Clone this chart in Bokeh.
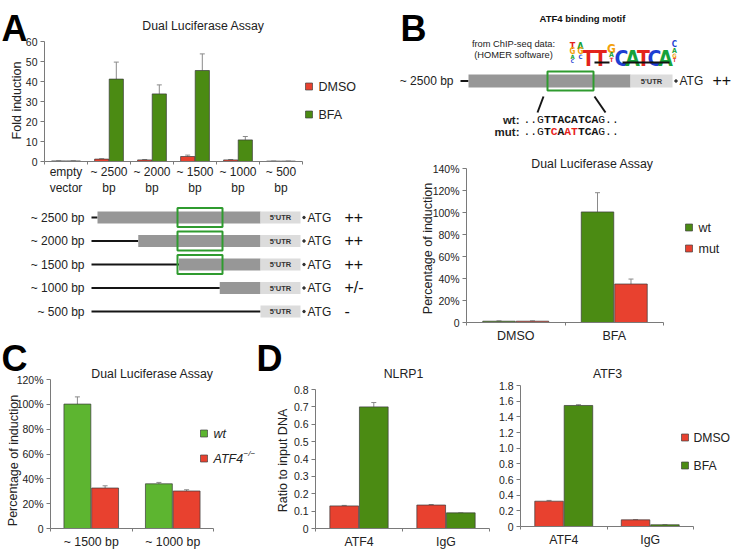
from bokeh.plotting import figure
from bokeh.models import (Range1d, FixedTicker, Whisker, TeeHead, ColumnDataSource, GridBox)
from bokeh.embed import file_html
from bokeh.resources import INLINE
from bokeh.core.properties import value

FONT = "Liberation Sans"
MONO = "Liberation Mono"
NARROW = "Liberation Sans Narrow, DejaVu Sans Condensed, Liberation Sans"
RED = "#e8412f"
GREEN = "#4b8b13"
GREEN_LIGHT = "#5db530"
ERRC = "#8a8a8a"
AXIS = "#7a7a7a"
TXT = "#222222"

# ---------------- data ----------------
# Panel A: fold induction
a_categories = ["empty\nvector", "~ 2500\nbp", "~ 2000\nbp", "~ 1500\nbp", "~ 1000\nbp", "~ 500\nbp"]
a_dmso = [0.3, 1.2, 0.8, 2.5, 0.8, 0.2]
a_dmso_err = [0.0, 0.2, 0.2, 0.7, 0.2, 0.0]
a_bfa = [0.3, 41.2, 33.8, 45.5, 10.8, 0.2]
a_bfa_err = [0.0, 8.5, 4.5, 8.3, 1.7, 0.0]
a_yticks = [0, 10, 20, 30, 40, 50, 60]
a_ylabels = ["0", "10", "20", "30", "40", "50", "60"]

# Panel A: promoter constructs
construct_bp = [2500, 2000, 1500, 1000, 500]
construct_labels = ["~ 2500 bp", "~ 2000 bp", "~ 1500 bp", "~ 1000 bp", "~ 500 bp"]
construct_activity = ["++", "++", "++", "+/-", "-"]
construct_has_motif = [True, True, True, False, False]

# Panel B
b_categories = ["DMSO", "BFA"]
b_wt = [1.2, 100.5]
b_wt_err = [0.3, 17.5]
b_mut = [1.2, 35.0]
b_mut_err = [0.3, 4.5]
pct_ticks_b = [0, 20, 40, 60, 80, 100, 120, 140]
pct_labels_b = ["0", "20%", "40%", "60%", "80%", "100%", "120%", "140%"]
wt_seq = "..GTTACATCAG.."
mut_seq = "..GTCAATTCAG.."
mut_changed = [4, 6, 7]

# Panel C
c_categories = ["~ 1500 bp", "~ 1000 bp"]
c_wt = [100.2, 36.0]
c_wt_err = [5.8, 1.1]
c_ko = [32.6, 30.2]
c_ko_err = [1.8, 1.0]
pct_ticks_c = [0, 20, 40, 60, 80, 100, 120]
pct_labels_c = ["0", "20%", "40%", "60%", "80%", "100%", "120%"]

# Panel D
d_categories = ["ATF4", "IgG"]
nlrp1_dmso = [0.13, 0.135]
nlrp1_dmso_err = [0.003, 0.003]
nlrp1_bfa = [0.70, 0.09]
nlrp1_bfa_err = [0.025, 0.0]
nlrp1_ticks = [0, 0.1, 0.2, 0.3, 0.4, 0.5, 0.6, 0.7, 0.8]
nlrp1_labels = ["0", "0.1", "0.2", "0.3", "0.4", "0.5", "0.6", "0.7", "0.8"]
atf3_dmso = [0.323, 0.085]
atf3_dmso_err = [0.01, 0.003]
atf3_bfa = [1.545, 0.022]
atf3_bfa_err = [0.01, 0.0]
atf3_ticks = [0, 0.2, 0.4, 0.6, 0.8, 1.0, 1.2, 1.4, 1.6, 1.8]
atf3_labels = ["0", "0.2", "0.4", "0.6", "0.8", "1.0", "1.2", "1.4", "1.6", "1.8"]

# motif logo letters
LOGO_COL = {"T": "#e3231c", "A": "#17a23a", "C": "#1d3fd2", "G": "#f3a10b"}
logo_big = [("T", 588), ("T", 600), ("C", 621), ("A", 632), ("T", 643), ("C", 654), ("A", 665)]
logo_small = [("T", 572, 45, 9), ("G", 572, 51, 8), ("A", 572, 56, 6), ("C", 572, 60, 5),
              ("A", 580, 45, 9), ("G", 580, 51, 8), ("C", 580, 56, 6),
              ("G", 611, 48, 12), ("A", 611, 54, 7), ("T", 611, 59, 6),
              ("C", 674, 44, 8), ("A", 674, 50, 7), ("G", 674, 55, 6), ("T", 674, 59, 5)]

W_PAGE, H_PAGE = 733, 551

# ---------------- background (decorations, page pixel coordinates) ----------------
bg = figure(width=W_PAGE, height=H_PAGE, x_range=Range1d(0, W_PAGE), y_range=Range1d(H_PAGE, 0),
            x_axis_type=None, y_axis_type=None, min_border=0, output_backend="svg",
            toolbar_location=None, frame_align=False)
bg.outline_line_color = None


def txt(x, y, t, size, align="left", baseline="middle", style="normal", color=TXT, font=FONT, angle=0.0):
    bg.text(x=[x], y=[y], text=[t], text_font=value(font), text_font_size=value(f"{size}px"),
            text_align=align, text_baseline=baseline, text_font_style=style, text_color=color,
            angle=angle)


def legend_box(x, ys, colors, labels, size=12.5, italic=False, gap=6):
    for y, c, t in zip(ys, colors, labels):
        bg.quad(left=[x], right=[x + 7], top=[y - 3.5], bottom=[y + 3.5], fill_color=c,
                line_color="#444444", line_width=0.7)
        txt(x + 7 + gap, y, t, size, style="italic" if italic else "normal")


# panel letters
txt(1, 28, "A", 36, baseline="alphabetic", style="bold", color="#000000")
txt(400, 28, "B", 36, baseline="alphabetic", style="bold", color="#000000")
txt(1, 358, "C", 36, baseline="alphabetic", style="bold", color="#000000")
txt(256, 358, "D", 36, baseline="alphabetic", style="bold", color="#000000")

# titles, axis titles, legends
txt(203, 25, "Dual Luciferase Assay", 12.3, align="center")
txt(16, 100, "Fold induction", 12.5, align="center", angle=1.5707963)
legend_box(305, [86, 114], [RED, GREEN], ["DMSO", "BFA"])

txt(592, 163, "Dual Luciferase Assay", 12.3, align="center")
txt(427, 248, "Percentage of induction", 12.5, align="center", angle=1.5707963)
legend_box(685, [227, 248], [GREEN, RED], ["wt", "mut"])

txt(152, 373, "Dual Luciferase Assay", 12.3, align="center")
txt(13, 460, "Percentage of induction", 12.5, align="center", angle=1.5707963)
legend_box(200, [433, 458], [GREEN_LIGHT, RED], ["wt", "ATF4"], italic=True)
txt(243, 453, "\u2212/\u2212", 8, style="italic")

txt(403, 373, "NLRP1", 12.3, align="center")
txt(282, 460, "Ratio to input DNA", 12.5, align="center", angle=1.5707963)
txt(607, 373, "ATF3", 12.3, align="center")
legend_box(681, [437, 465], [RED, GREEN], ["DMSO", "BFA"], size=12.2, gap=5)

# Panel A construct diagram
row_y = [217 + 23.5 * i for i in range(len(construct_bp))]
box_start = [260 - (bp - 500) / 500 * 40.75 for bp in construct_bp]
n = len(row_y)
bg.segment(x0=[91] * n, y0=row_y, x1=box_start, y1=row_y, line_width=2, line_color="#151515")
bg.quad(left=box_start, right=[260] * n, top=[y - 6 for y in row_y], bottom=[y + 6 for y in row_y],
        fill_color="#979797", line_color=None)
bg.quad(left=[260] * n, right=[300] * n, top=[y - 6 for y in row_y], bottom=[y + 6 for y in row_y],
        fill_color="#dcdcdc", line_color=None)
mot_y = [y for y, h in zip(row_y, construct_has_motif) if h]
bg.quad(left=[177] * len(mot_y), right=[222] * len(mot_y), top=[y - 9.5 for y in mot_y],
        bottom=[y + 9.5 for y in mot_y], fill_color=None, line_color="#2f9b2f", line_width=2)
bg.text(x=[84] * n, y=row_y, text=construct_labels, text_font=value(FONT), text_font_size="12px",
        text_align="right", text_baseline="middle", text_color=TXT)
bg.text(x=[280] * n, y=row_y, text=["5'UTR"] * n, text_font=value(FONT), text_font_size="7.5px",
        text_font_style="bold", text_align="center", text_baseline="middle", text_color="#333333")
bg.scatter(x=[303.5] * n, y=row_y, size=2.5, color="#333333")
bg.text(x=[307] * n, y=row_y, text=["ATG"] * n, text_font=value(FONT), text_font_size="12px",
        text_align="left", text_baseline="middle", text_color=TXT)
bg.text(x=[344] * n, y=[y - 1 for y in row_y], text=construct_activity, text_font=value(FONT),
        text_font_size="16px", text_align="left", text_baseline="middle", text_color="#111111")

# Panel B motif + construct
txt(582, 18, "ATF4 binding motif", 9.5, align="center", style="bold", color="#111111")
txt(513, 43, "from ChIP-seq data:", 9.3, align="center")
txt(513, 54, "(HOMER software)", 9.3, align="center")
for ch, x in logo_big:
    txt(x, 58, ch, 21, align="center", baseline="alphabetic", style="bold", color=LOGO_COL[ch], font=NARROW)
for ch, x, y, s in logo_small:
    txt(x, y, ch, s, align="center", baseline="alphabetic", style="bold", color=LOGO_COL[ch], font=NARROW)
bg.segment(x0=[594, 622], y0=[62, 62], x1=[609, 669], y1=[62, 62], line_width=2.2, line_color="#111111")
bg.segment(x0=[460], y0=[80.5], x1=[468], y1=[80.5], line_width=2, line_color="#151515")
bg.quad(left=[468], right=[630], top=[74], bottom=[87], fill_color="#979797", line_color=None)
bg.quad(left=[630], right=[672], top=[74], bottom=[87], fill_color="#dcdcdc", line_color=None)
bg.quad(left=[547], right=[593], top=[71], bottom=[90], fill_color=None, line_color="#2f9b2f", line_width=2)
txt(453, 80.5, "~ 2500 bp", 12, align="right")
txt(651, 80.5, "5'UTR", 7.5, align="center", style="bold", color="#333333")
bg.scatter(x=[675.5], y=[80.5], size=2.5, color="#333333")
txt(679, 80.5, "ATG", 12)
txt(712, 79.5, "++", 16, color="#111111")
bg.segment(x0=[543, 594], y0=[96, 96], x1=[537, 605], y1=[112, 112], line_width=2, line_color="#151515")
txt(519, 119, "wt:", 11.5, align="right", style="bold")
txt(519, 131, "mut:", 11.5, align="right", style="bold")
for i, ch in enumerate(wt_seq):
    txt(526.4 + 6.8 * i, 119, ch, 11.3, align="center", font=MONO,
        style="bold" if 3 <= i <= 10 else "normal", color="#111111")
for i, ch in enumerate(mut_seq):
    txt(526.4 + 6.8 * i, 131, ch, 11.3, align="center", font=MONO,
        style="bold" if 3 <= i <= 10 else "normal",
        color="#e8231c" if i in mut_changed else "#111111")


# ---------------- charts ----------------
def chart(fx, fy, W, H, L, R, T, B, ncat, ymax, yticks, ylabels, xlabels, xfont=12.3, standoff=3):
    p = figure(width=W, height=H, x_range=Range1d(0, ncat), y_range=Range1d(0, ymax),
               output_backend="svg", toolbar_location=None, frame_align=False,
               min_border_left=L - fx, min_border_right=fx + W - R,
               min_border_top=T - fy, min_border_bottom=fy + H - B)
    p.outline_line_color = None
    p.border_fill_color = None
    p.background_fill_color = None
    p.xgrid.visible = False
    p.ygrid.visible = False
    p.margin = (fy, 0, 0, fx)
    centers = [i + 0.5 for i in range(ncat)]
    bounds = list(range(ncat + 1))
    xa = p.xaxis[0]
    xa.ticker = FixedTicker(ticks=centers, minor_ticks=bounds)
    xa.major_label_overrides = {c: t for c, t in zip(centers, xlabels)}
    xa.major_tick_out = 0
    xa.major_tick_in = 0
    xa.minor_tick_out = 3
    xa.minor_tick_in = 0
    xa.axis_line_color = AXIS
    xa.minor_tick_line_color = AXIS
    xa.major_label_text_font = FONT
    xa.major_label_text_font_size = f"{xfont}px"
    xa.major_label_text_color = TXT
    xa.major_label_standoff = standoff
    ya = p.yaxis[0]
    ya.ticker = FixedTicker(ticks=yticks)
    ya.major_label_overrides = dict(zip(yticks, ylabels))
    ya.major_tick_out = 4
    ya.major_tick_in = 0
    ya.minor_tick_out = 0
    ya.minor_tick_in = 0
    ya.axis_line_color = AXIS
    ya.major_tick_line_color = AXIS
    ya.major_label_text_font = FONT
    ya.major_label_text_font_size = "10.5px"
    ya.major_label_text_color = TXT
    ya.major_label_standoff = 3
    return p, centers


def bars(p, centers, vals, errs, offset, color):
    xs = [c + offset for c in centers]
    src = ColumnDataSource(dict(x=xs, top=vals, upper=[v + e for v, e in zip(vals, errs)]))
    r = p.vbar(x="x", top="top", bottom=0, width=0.33, source=src, fill_color=color,
               line_color="#3a3a3a", line_width=0.7)
    p.add_layout(Whisker(source=src, base="x", upper="upper", lower="top", dimension="height",
                         line_color=ERRC, line_width=1,
                         upper_head=TeeHead(size=5, line_color=ERRC, line_width=1), lower_head=None))
    return r


pa, ca = chart(0, 0, 370, 198, 44, 302, 41, 161, 6, 60, a_yticks, a_ylabels, a_categories, 12, standoff=0)
bars(pa, ca, a_dmso, a_dmso_err, -0.17, RED)
bars(pa, ca, a_bfa, a_bfa_err, 0.17, GREEN)

pb, cb = chart(370, 140, 363, 205, 466, 663, 168, 323, 2, 140, pct_ticks_b, pct_labels_b, b_categories, 12.5)
bars(pb, cb, b_wt, b_wt_err, -0.17, GREEN)
bars(pb, cb, b_mut, b_mut_err, 0.17, RED)

pc, cc = chart(0, 340, 250, 211, 50, 213, 379, 530, 2, 120, pct_ticks_c, pct_labels_c, c_categories)
bars(pc, cc, c_wt, c_wt_err, -0.17, GREEN_LIGHT)
bars(pc, cc, c_ko, c_ko_err, 0.17, RED)

pd1, cd1 = chart(250, 340, 245, 211, 315, 489, 389, 528, 2, 0.8, nlrp1_ticks, nlrp1_labels, d_categories)
bars(pd1, cd1, nlrp1_dmso, nlrp1_dmso_err, -0.17, RED)
bars(pd1, cd1, nlrp1_bfa, nlrp1_bfa_err, 0.17, GREEN)

pd2, cd2 = chart(495, 340, 238, 211, 518, 693, 385, 526, 2, 1.8, atf3_ticks, atf3_labels, d_categories)
bars(pd2, cd2, atf3_dmso, atf3_dmso_err, -0.17, RED)
bars(pd2, cd2, atf3_bfa, atf3_bfa_err, 0.17, GREEN)

layout = GridBox(children=[(bg, 0, 0), (pa, 0, 0), (pb, 0, 0), (pc, 0, 0), (pd1, 0, 0), (pd2, 0, 0)])
open("out.html", "w").write(file_html(layout, INLINE))
